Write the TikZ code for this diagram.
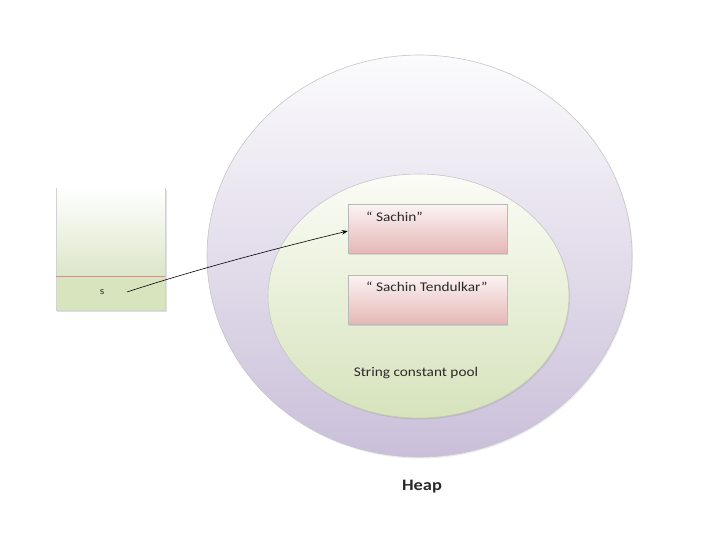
\documentclass[tikz,border=0pt]{standalone}
\usepackage{fontspec}
\setmainfont{Carlito}
\newfontfamily\diag[FakeStretch=1.15]{Carlito}
\usetikzlibrary{shapes.geometric,shadows,arrows.meta}
\definecolor{heaptop}{HTML}{FBFBFD}
\definecolor{heapbot}{HTML}{CABFD9}
\definecolor{pooltop}{HTML}{FBFCF6}
\definecolor{poolbot}{HTML}{D6E3BC}
\definecolor{boxtop}{HTML}{FCF3F3}
\definecolor{boxbot}{HTML}{E5B8B7}
\definecolor{stacktop}{HTML}{FFFFFF}
\definecolor{stackbot}{HTML}{DCE6C8}
\definecolor{cellfill}{HTML}{D8E4BE}
\definecolor{divline}{HTML}{BC9C8C}
\definecolor{txt}{HTML}{2A2A2A}
\tikzset{
  region/.style={ellipse, draw=gray!45, line width=0.6pt, inner sep=0pt},
  strbox/.style={rectangle, draw=gray!55, line width=0.5pt, top color=boxtop, bottom color=boxbot,
    minimum width=159pt, minimum height=49pt, inner sep=0pt,
    drop shadow={shadow xshift=1pt, shadow yshift=-1.5pt, opacity=0.25}},
  lbl/.style={font=\diag\fontsize{13.3}{15}\selectfont, text=txt, inner sep=0pt, anchor=west},
}
\begin{document}
\begin{tikzpicture}[x=1pt,y=-1pt]
\useasboundingbox (0,0) rectangle (720,540);
\fill[white] (0,0) rectangle (720,540);
% heap
\node[region, minimum width=425pt, minimum height=402pt, top color=heaptop, bottom color=heapbot,
  drop shadow={shadow xshift=1pt, shadow yshift=-1.5pt, opacity=0.15}] (heap) at (419.5,256) {};
% pool
\node[region, minimum width=301pt, minimum height=244pt, top color=pooltop, bottom color=poolbot,
  drop shadow={shadow xshift=1pt, shadow yshift=-1.5pt, opacity=0.2}] (pool) at (418.5,296) {};
% string boxes
\node[strbox] (b1) at (427.5,228.5) {};
\node[strbox] (b2) at (427.5,299.5) {};
\node[lbl] (t1) at (366,217) {“ Sachin”};
\node[lbl] (t2) at (366,287) {“ Sachin Tendulkar”};
\node[lbl, anchor=center] (tp) at (416,373) {String constant pool};
\node[font=\diag\bfseries\fontsize{16}{18}\selectfont, text=txt, inner sep=0pt] (heaplbl) at (422,487) {Heap};
% stack
\shade[top color=stacktop, bottom color=stackbot] (56,188) rectangle (165,276);
\fill[cellfill] (56,276) rectangle (165,310);
\draw[gray!35, line width=0.6pt] (56,188) -- (56,310) -- (165,310) -- (165,188);
\draw[gray!25, line width=1pt] (166,190) -- (166,311) -- (57,311);
\draw[divline, line width=0.6pt] (56,276) -- (165,276);
\node[font=\diag\fontsize{10}{11}\selectfont, text=txt, inner sep=1pt] (s) at (102,292) {s};
\coordinate (sref) at (127,292);
% pointer
\draw[black, line width=0.6pt, -{Stealth[length=6pt,width=4.5pt]}] (sref) .. controls (200,268) and (290,245) .. (b1.west |- 0,231);
\end{tikzpicture}
\end{document}
